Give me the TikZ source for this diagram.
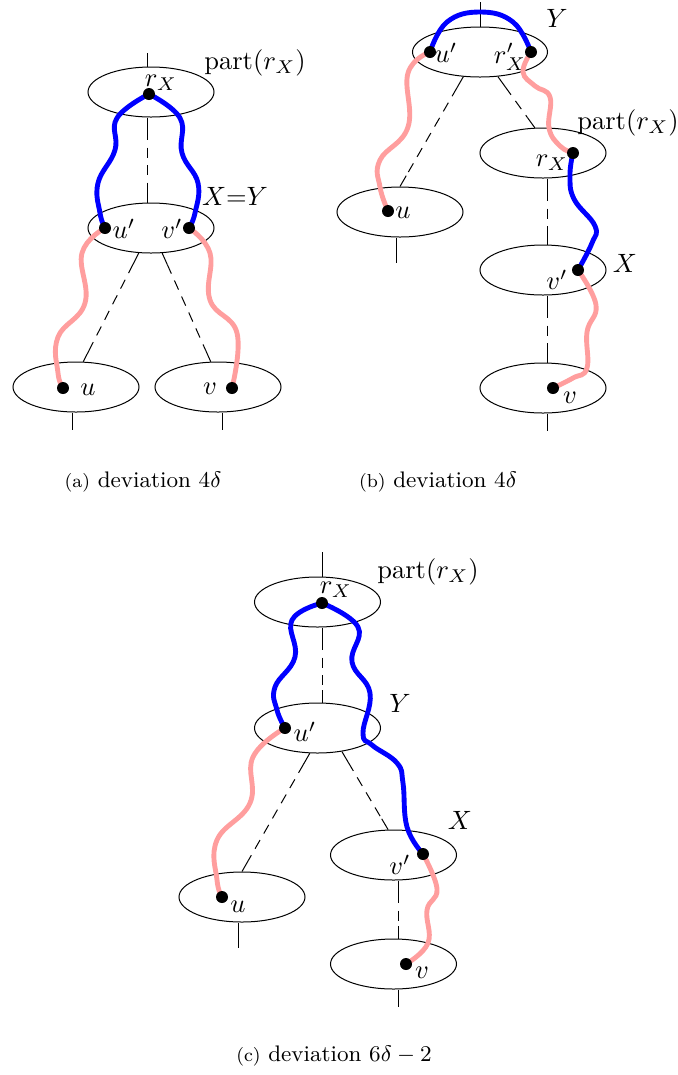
\RequirePackage{fix-cm}
\documentclass[tikz,border=0pt]{standalone}
\usepackage{fontspec}
\usetikzlibrary{shapes.geometric,calc}
\definecolor{pathblue}{RGB}{0,0,255}
\definecolor{pathpink}{RGB}{255,158,158}
\pgfdeclarelayer{back}
\pgfdeclarelayer{paths}
\pgfsetlayers{back,paths,main}
% tree edge between two bags: solid ends, dashed middle
\newcommand\tieline[2]{%
  \draw (#1) -- ($(#1)!5pt!(#2)$);
  \draw[dash pattern=on 4pt off 3pt] ($(#1)!5pt!(#2)$) -- ($(#2)!5pt!(#1)$);
  \draw ($(#2)!5pt!(#1)$) -- (#2);}
\begin{document}
\begin{tikzpicture}[x=0.4pt,y=-0.4pt,line width=0.45pt,
  bag/.style={draw,ellipse,inner sep=0pt,minimum width=50.4pt,minimum height=20pt},
  widebag/.style={bag,minimum width=54pt},
  vtx/.style={circle,fill,inner sep=0pt,minimum size=4.8pt},
  lbl/.style={inner sep=0pt,font=\fontsize{10.6}{12}\selectfont},
  captext/.style={inner sep=0pt,font=\fontsize{9}{11}\selectfont},
  bluepath/.style={draw=pathblue,line width=1.95pt,line cap=round},
  pinkpath/.style={draw=pathpink,line width=1.95pt,line cap=round},
  tens/.style={smooth,tension=0.72}]
\path[use as bounding box] (0,0) rectangle (678,1075);

%================ (a) ================
\begin{pgfonlayer}{back}
\node[bag] (aR) at (151,92) {};
\node[bag] (aM) at (151,228) {};
\node[bag] (aU) at (76,387) {};
\node[bag] (aV) at (218,387) {};
\coordinate (aR-n) at ([xshift=-1.6pt]aR.north);
\coordinate (aR-top) at ($(aR-n)+(0,-14)$);
\draw (aR-n) -- (aR-top);
\coordinate (aR-s) at ([xshift=-1.6pt]aR.south);
\coordinate (aM-n) at ([xshift=-1.6pt]aM.north);
\tieline{aR-s}{aM-n}
\tieline{aM.-116}{aU.74}
\tieline{aM.-66}{aV.106}
\coordinate (aU-s) at ([xshift=-1.6pt]aU.south);
\coordinate (aU-end) at ($(aU-s)+(0,17)$);
\draw (aU-s) -- (aU-end);
\coordinate (aV-s) at ([xshift=1.6pt]aV.south);
\coordinate (aV-end) at ($(aV-s)+(0,17)$);
\draw (aV-s) -- (aV-end);
\end{pgfonlayer}

\node[vtx] (a-rx) at (149,94) {};
\node[vtx] (a-u1) at (105,228) {};
\node[vtx] (a-v1) at (189,228) {};
\node[vtx] (a-u) at (63,388) {};
\node[vtx] (a-v) at (232,388) {};

\node[lbl] (a-rx-l) at (161,83) {$r_X$};
\node[lbl] (a-part) at (255,63) {$\mathrm{part}(r_X)$};
\node[lbl] (a-xy) at (235,196) {$X{=}Y$};
\node[lbl] (a-u1-l) at (124,229) {$u'$};
\node[lbl] (a-v1-l) at (172,229) {$v'$};
\node[lbl] (a-u-l) at (88,390) {$u$};
\node[lbl] (a-v-l) at (210,389) {$v$};

\begin{pgfonlayer}{paths}
\draw[bluepath] plot[tens] coordinates {(a-rx.center) (117,118) (115,150) (98,183) (100,213) (a-u1.center)};
\draw[bluepath] plot[tens] coordinates {(a-rx.center) (180,118) (182,153) (198,183) (195,213) (a-v1.center)};
\draw[pinkpath] plot[tens] coordinates {(a-u1.center) (82,253) (85,303) (58,337) (58,373) (a-u.center)};
\draw[pinkpath] plot[tens] coordinates {(a-v1.center) (210,253) (210,300) (237,333) (a-v.center)};
\end{pgfonlayer}

\node[captext] (cap-a) at (143,482) {{\fontsize{7.5}{9}\selectfont(a)} deviation $4\delta$};

%================ (b) ================
\begin{pgfonlayer}{back}
\node[widebag] (bY) at (480,52) {};
\node[bag] (bU) at (400,212) {};
\node[bag] (bR) at (543,153) {};
\node[bag] (bX) at (543,270) {};
\node[bag] (bV) at (543,388) {};
\coordinate (bY-n) at (bY.north);
\coordinate (bY-top) at ($(bY-n)+(0,-25)$);
\draw (bY-n) -- (bY-top);
\tieline{bY.-124}{bU.90}
\tieline{bY.-54}{bR.108}
\coordinate (bR-s) at ([xshift=1.6pt]bR.south);
\coordinate (bX-n) at ([xshift=1.6pt]bX.north);
\coordinate (bX-s) at ([xshift=1.6pt]bX.south);
\coordinate (bV-n) at ([xshift=1.6pt]bV.north);
\tieline{bR-s}{bX-n}
\tieline{bX-s}{bV-n}
\coordinate (bU-s) at ([xshift=-1.6pt]bU.south);
\coordinate (bU-end) at ($(bU-s)+(0,25)$);
\draw (bU-s) -- (bU-end);
\coordinate (bV-s) at ([xshift=1.6pt]bV.south);
\coordinate (bV-end) at ($(bV-s)+(0,17)$);
\draw (bV-s) -- (bV-end);
\end{pgfonlayer}

\node[vtx] (b-u1) at (430,52) {};
\node[vtx] (b-rp) at (531,52) {};
\node[vtx] (b-u) at (388,211) {};
\node[vtx] (b-rx) at (573,153) {};
\node[vtx] (b-v1) at (578,270) {};
\node[vtx] (b-v) at (553,388) {};

\node[lbl] (b-y-l) at (557,18) {$Y$};
\node[lbl] (b-u1-l) at (446,53) {$u'$};
\node[lbl] (b-rp-l) at (510,57) {$r'_X$};
\node[lbl] (b-part) at (628,123) {$\mathrm{part}(r_X)$};
\node[lbl] (b-rx-l) at (552,163) {$r_X$};
\node[lbl] (b-u-l) at (403,213) {$u$};
\node[lbl] (b-x-l) at (625,263) {$X$};
\node[lbl] (b-v1-l) at (557,280) {$v'$};
\node[lbl] (b-v-l) at (570,398) {$v$};

\begin{pgfonlayer}{paths}
\draw[bluepath] plot[tens] coordinates {(b-u1.center) (447,22) (480,12) (513,22) (b-rp.center)};
\draw[pinkpath] plot[tens] coordinates {(b-u1.center) (408,73) (408,127) (380,160) (380,187) (b-u.center)};
\draw[pinkpath] plot[tens] coordinates {(b-rp.center) (523,72) (535,86) (550,97) (549,128) (560,146) (b-rx.center)};
\draw[bluepath] plot[tens] coordinates {(b-rx.center) (570,175) (574,199) (595,226) (592,243) (b-v1.center)};
\draw[pinkpath] plot[tens] coordinates {(b-v1.center) (596,305) (587,332) (587,368) (573,378) (b-v.center)};
\end{pgfonlayer}

\node[captext] (cap-b) at (438,482) {{\fontsize{7.5}{9}\selectfont(b)} deviation $4\delta$};

%================ (c) ================
\begin{pgfonlayer}{back}
\node[bag] (cR) at (317.5,602) {};
\node[bag] (cY) at (317.5,728) {};
\node[bag] (cX) at (393.5,855) {};
\node[bag] (cU) at (242,897) {};
\node[bag] (cV) at (393.5,964) {};
\coordinate (cR-n) at ([xshift=1.8pt]cR.north);
\coordinate (cR-top) at ($(cR-n)+(0,-25)$);
\draw (cR-n) -- (cR-top);
\coordinate (cR-s) at ([xshift=1.8pt]cR.south);
\coordinate (cY-n) at ([xshift=1.8pt]cY.north);
\tieline{cR-s}{cY-n}
\tieline{cY.-107}{cU.90}
\tieline{cY.-44}{cX.102}
\coordinate (cX-s) at ([xshift=1.8pt]cX.south);
\coordinate (cV-n) at ([xshift=1.8pt]cV.north);
\tieline{cX-s}{cV-n}
\coordinate (cU-s) at ([xshift=-1.6pt]cU.south);
\coordinate (cU-end) at ($(cU-s)+(0,25)$);
\draw (cU-s) -- (cU-end);
\coordinate (cV-s) at ([xshift=1.8pt]cV.south);
\coordinate (cV-end) at ($(cV-s)+(0,17)$);
\draw (cV-s) -- (cV-end);
\end{pgfonlayer}

\node[vtx] (c-rx) at (322,603) {};
\node[vtx] (c-u1) at (285,728) {};
\node[vtx] (c-v1) at (423,854) {};
\node[vtx] (c-u) at (222,897) {};
\node[vtx] (c-v) at (406,964) {};

\node[lbl] (c-part) at (428,572) {$\mathrm{part}(r_X)$};
\node[lbl] (c-rx-l) at (336,590) {$r_X$};
\node[lbl] (c-y-l) at (400,703) {$Y$};
\node[lbl] (c-u1-l) at (305,732) {$u'$};
\node[lbl] (c-x-l) at (460,820) {$X$};
\node[lbl] (c-v1-l) at (400,865) {$v'$};
\node[lbl] (c-u-l) at (238,907) {$u$};
\node[lbl] (c-v-l) at (422,973) {$v$};

\begin{pgfonlayer}{paths}
\draw[bluepath] plot[tens] coordinates {(c-rx.center) (292,620) (295,657) (275,687) (277,710) (c-u1.center)};
\draw[bluepath] plot[tens] coordinates {(c-rx.center) (358,627) (352,662) (370,693) (363,733) (372,745) (397,763) (403,783) (407,827) (c-v1.center)};
\draw[pinkpath] plot[tens] coordinates {(c-u1.center) (253,757) (250,803) (217,840) (217,880) (c-u.center)};
\draw[pinkpath] plot[tens] coordinates {(c-v1.center) (437,889) (427,910) (428,943) (c-v.center)};
\end{pgfonlayer}

\node[captext] (cap-c) at (334,1056) {{\fontsize{7.5}{9}\selectfont(c)} deviation $6\delta-2$};
\end{tikzpicture}
\end{document}
